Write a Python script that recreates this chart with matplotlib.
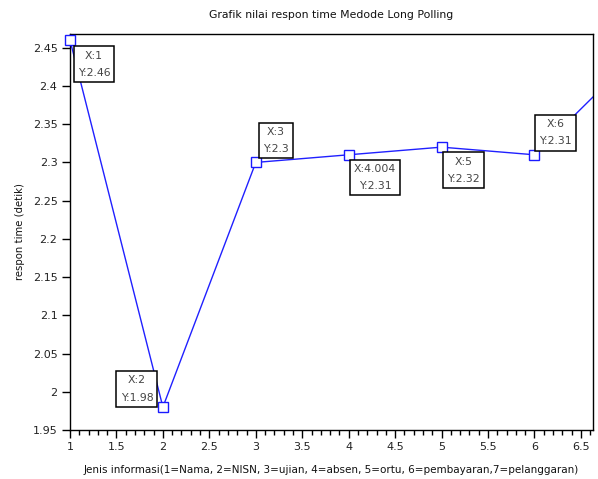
import numpy as np
import matplotlib
matplotlib.use("Agg")
import matplotlib.pyplot as plt
from matplotlib.ticker import MultipleLocator

# data
x_vals = [1, 2, 3, 4, 5, 6, 7]
y_vals = [2.46, 1.98, 2.30, 2.31, 2.32, 2.31, 2.43]
tip_x = [1, 2, 3, 4.004, 5, 6]
tip_labels = ["X:1\nY:2.46", "X:2\nY:1.98", "X:3\nY:2.3",
              "X:4.004\nY:2.31", "X:5\nY:2.32", "X:6\nY:2.31"]
tip_offsets = [(24, -24), (-26, 18), (20, 22), (26, -23), (22, -23), (21, 22)]

fig = plt.figure(figsize=(5.98, 4.79), dpi=100)
ax = fig.add_axes([70/598, 1-430/479, (593-70)/598, (430-34)/479])

ax.plot(x_vals, y_vals, color="#2020ff", lw=1.0, clip_on=True, zorder=2)
tip_y = np.interp(tip_x, x_vals, y_vals)
ax.plot(tip_x, tip_y, ls="none", marker="s", ms=7.2, mfc="white", mec="#1a1aff",
        mew=1.0, zorder=3, clip_on=False)

for tx, ty, lab, off in zip(tip_x, tip_y, tip_labels, tip_offsets):
    ax.annotate(lab, xy=(tx, ty), xytext=off, textcoords="offset pixels",
                ha="center", va="center", fontsize=7.8, color="#444444",
                linespacing=1.9, zorder=4,
                bbox=dict(boxstyle="square,pad=0.38", fc="white", ec="black", lw=1.1))

ax.set_xlim(1, 6.63)
ax.set_ylim(1.95, 2.468)
ax.xaxis.set_minor_locator(MultipleLocator(0.1))
ax.set_xticks([1, 1.5, 2, 2.5, 3, 3.5, 4, 4.5, 5, 5.5, 6, 6.5])
ax.set_xticklabels(["1", "1.5", "2", "2.5", "3", "3.5", "4", "4.5", "5", "5.5", "6", "6.5"])
ax.set_yticks([1.95, 2, 2.05, 2.1, 2.15, 2.2, 2.25, 2.3, 2.35, 2.4, 2.45])
ax.set_yticklabels(["1.95", "2", "2.05", "2.1", "2.15", "2.2", "2.25", "2.3", "2.35", "2.4", "2.45"])
ax.tick_params(axis="both", which="major", direction="out", length=6, width=1,
               labelsize=8, labelcolor="#222222", pad=3)
ax.tick_params(axis="x", which="minor", direction="out", length=3.5, width=1)
for s in ax.spines.values():
    s.set_linewidth(1.0)

fig.text(331/598, 1-15/479, "Grafik nilai respon time Medode Long Polling",
         ha="center", va="center", fontsize=7.8, color="#111111")
fig.text(331/598, 1-470/479,
         "Jenis informasi(1=Nama, 2=NISN, 3=ujian, 4=absen, 5=ortu, 6=pembayaran,7=pelanggaran)",
         ha="center", va="center", fontsize=7.5, color="#111111")
fig.text(20/598, 1-232/479, "respon time (detik)", rotation=90,
         ha="center", va="center", fontsize=7.3, color="#111111")

fig.savefig("out.png", dpi=100)
